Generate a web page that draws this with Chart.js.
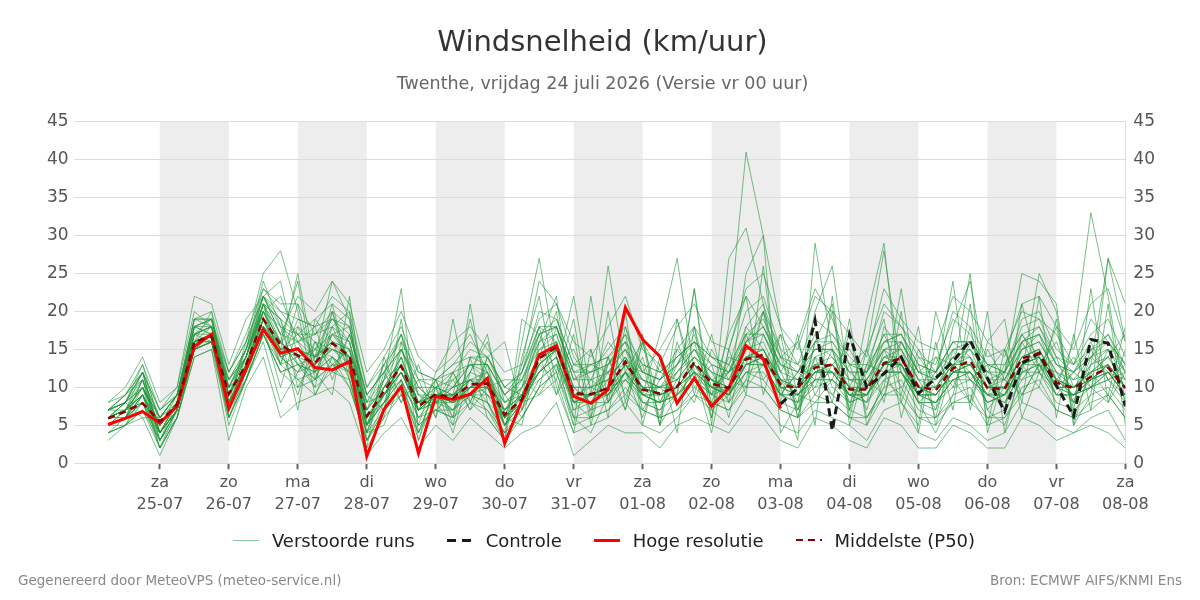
<!DOCTYPE html>
<html>
<head>
<meta charset="utf-8">
<script src="https://cdn.jsdelivr.net/npm/chart.js@4/dist/chart.umd.min.js"></script>
<style>
  html, body { margin: 0; padding: 0; background: #fff; }
  #wrap { position: relative; width: 1200px; height: 600px; font-family: 'DejaVu Sans', sans-serif; }
  .foot { position: absolute; top: 572px; font-size: 13.5px; color: #888; }
  #legend { position: absolute; left: 4px; top: 529px; width: 1200px; height: 22px;
    display: flex; justify-content: center; align-items: center; font-size: 18px; color: #222; }
  #legend .item { display: flex; align-items: center; margin-right: 32px; white-space: nowrap; }
  #legend .item:last-child { margin-right: 0; }
  #legend .swatch { width: 26px; margin-right: 13px; }
</style>
</head>
<body>
<div id="wrap">
  <canvas id="chart-wind" width="1200" height="600"></canvas>
  <div id="legend"></div>
  <div class="foot" style="left:18px">Gegenereerd door MeteoVPS (meteo-service.nl)</div>
  <div class="foot" style="right:18px">Bron: ECMWF AIFS/KNMI Ens</div>
</div>
<script>
// hours relative to za 25-07 00:00, 6-hourly steps
const stepHours = [-18,-12,-6,0,6,12,18,24,30,36,42,48,54,60,66,72,78,84,90,96,
  102,108,114,120,126,132,138,144,150,156,162,168,174,180,186,192,198,204,210,216,
  222,228,234,240,246,252,258,264,270,276,282,288,294,300,306,312,318,324,330,336];

const dayTicks = [0,24,48,72,96,120,144,168,192,216,240,264,288,312,336];
const dayNames = ['za','zo','ma','di','wo','do','vr','za','zo','ma','di','wo','do','vr','za'];
const dayDates = ['25-07','26-07','27-07','28-07','29-07','30-07','31-07','01-08','02-08','03-08','04-08','05-08','06-08','07-08','08-08'];
const shadedDays = [0,48,96,144,192,240,288];

const yTicks = [0,5,10,15,20,25,30,35,40,45];

// Hoge resolutie (first 10 days only)
const hiRes = [5.1,5.9,6.8,5.3,7.5,15.4,17.0,7.2,12.4,17.6,
  14.5,15.1,12.6,12.3,13.4,0.9,7.1,10.1,1.3,8.8,
  8.4,9.1,11.2,2.6,8.3,14.3,15.5,8.8,7.9,9.7,
  20.5,16.3,14.1,7.9,11.2,7.5,9.9,15.5,13.7,7.2];

// Middelste (P50)
const p50 = [5.9,6.8,7.9,5.5,7.7,16.0,16.7,9.1,13.0,19.0,
  15.6,14.2,13.2,15.8,14.1,6.2,9.5,12.8,7.5,9.1,
  8.6,10.4,10.5,6.4,8.4,13.8,15.3,9.2,9.1,9.9,
  13.4,9.7,9.2,10.1,13.3,10.5,9.9,13.7,14.3,10.4,
  9.9,12.6,13.0,9.7,9.7,13.2,13.8,10.1,9.6,12.5,
  13.5,9.9,9.8,13.8,14.5,10.6,9.9,11.4,12.6,9.9];

// Controle, visible from 03-08 00:00 onward (step index 39)
const controlStart = 39;
const control = [7.8,9.9,18.8,4.3,17.0,10.0,11.8,14.0,9.2,11.2,13.4,16.2,11.2,6.8,13.2,14.5,10.2,6.2,16.3,15.8,7.5];

// Verstoorde runs (ensemble members)
const members = [
  [7,8,12,4,8, 18,19,10,15,24, 18,16,12,17,15, 5,8,14,6,9, 8,12,11,5,7, 15,17,10,8,11, 14,9,8,12,15, 11,9,16,20,12, 8,14,12,9,11, 15,13,8,10,14, 12,8,9,15,17, 11,9,13,14,10],
  [5,6,9,3,7, 15,17,8,12,20, 16,13,14,16,13, 4,10,13,8,10, 9,11,9,7,9, 12,14,8,11,9, 12,11,10,8,13, 9,12,14,13,9, 12,10,15,8,9, 12,16,11,7,13, 15,10,12,11,14, 9,12,10,15,8],
  [6,7,10,6,9, 17,16,11,14,21, 15,17,15,19,16, 8,11,15,9,8, 10,13,12,8,10, 18,16,7,9,13, 16,8,7,11,14, 12,8,18,15,11, 7,16,14,10,8, 18,15,9,12,16, 14,7,10,17,13, 12,8,14,12,11],
  [4,5,7,2,6, 14,15,6,11,17, 12,10,11,13,12, 3,7,10,5,7, 6,9,8,4,6, 10,12,5,6,7, 10,7,6,7,10, 8,7,11,10,7, 6,9,8,6,5, 9,10,6,5,8, 9,5,6,10,11, 7,6,8,9,6],
  [7,9,13,7,10, 20,18,12,17,23, 20,19,18,22,20, 10,14,18,12,11, 13,16,14,10,12, 20,19,13,12,15, 18,12,11,15,18, 14,13,20,22,15, 13,19,17,14,12, 20,18,14,13,19, 17,13,12,19,20, 15,13,17,19,14],
  [6,7,8,5,8, 16,17,9,13,19, 14,15,13,15,14, 6,9,12,7,9, 8,10,11,6,8, 14,15,9,9,10, 13,10,9,10,13, 11,10,14,14,10, 10,12,13,10,10, 13,14,10,9,12, 13,10,10,14,15, 10,10,11,13,10],
  [5,6,11,4,7, 16,20,7,14,22, 24,14,10,20,11, 2,6,16,3,11, 5,14,6,3,14, 22,10,4,15,6, 20,5,14,4,18, 6,15,9,26,8, 17,5,22,6,15, 8,20,4,16,7, 21,5,15,8,22, 6,17,7,21,5],
  [6,8,6,6,9, 15,16,10,12,18, 10,18,16,12,17, 9,12,8,11,6, 12,8,13,9,6, 10,18,12,7,14, 9,14,6,16,10, 13,6,17,11,14, 7,13,9,13,7, 15,10,13,6,15, 11,13,7,16,12, 14,8,15,11,12],
  [7,7,9,5,8, 19,18,8,16,25, 28,20,9,14,12, 4,5,11,4,10, 4,12,17,6,5, 16,22,6,4,9, 11,13,5,9,23, 7,9,25,30,18, 9,8,11,17,6, 10,23,8,4,9, 18,7,5,12,25, 20,5,9,27,16],
  [5,5,7,3,6, 15,16,5,11,16, 8,12,15,17,18, 7,13,9,10,8, 11,7,10,11,11, 9,13,15,10,12, 7,16,12,11,8, 15,11,10,13,17, 13,11,20,7,13, 12,8,15,10,11, 8,15,11,9,13, 11,14,10,8,12],
  [8,10,14,8,10, 22,21,13,19,22, 17,22,20,24,21, 12,15,20,14,12, 16,18,15,12,13, 19,21,16,14,18, 22,15,13,18,21, 16,15,23,25,18, 15,22,20,17,14, 23,19,16,15,22, 20,16,14,21,22, 18,15,21,23,16],
  [4,6,8,3,7, 16,16,7,12,18, 13,11,12,14,10, 3,8,11,6,7, 7,9,7,4,7, 11,13,6,7,8, 11,8,7,9,11, 9,8,12,11,8, 7,11,9,7,6, 10,11,7,6,9, 10,6,7,11,12, 8,7,9,10,7],
  [6,6,10,4,8, 17,17,9,15,20, 22,16,17,18,13, 5,10,14,8,10, 9,12,16,8,9, 17,18,11,13,12, 15,9,10,13,17, 10,12,16,18,13, 11,15,16,12,10, 16,17,12,11,15, 16,11,12,16,18, 13,11,14,17,12],
  [7,8,12,6,9, 18,19,11,14,21, 19,13,11,16,15, 7,11,13,9,9, 10,11,12,7,11, 15,16,10,10,11, 14,11,9,12,14, 12,11,15,16,11, 11,13,14,11,11, 14,15,11,10,13, 14,10,11,15,16, 12,11,12,14,11],
  [3,5,6,1,6, 14,15,3,10,14, 6,8,9,10,8, 1,4,6,2,5, 3,6,4,2,4, 5,8,1,3,5, 4,4,2,5,6, 5,4,7,6,3, 2,6,5,3,2, 6,5,2,2,5, 4,2,2,6,5, 3,4,5,4,2],
  [6,7,9,5,8, 17,18,9,14,20, 16,18,14,17,16, 6,9,13,8,9, 9,11,10,6,9, 13,16,9,9,10, 13,10,9,10,13, 11,10,14,15,10, 10,12,13,10,9, 13,14,10,9,12, 13,10,10,14,15, 11,10,11,13,10],
  [5,7,11,4,7, 16,17,8,13,19, 15,25,13,21,12, 4,12,17,7,11, 6,14,13,5,10, 14,20,8,6,13, 17,7,11,14,16, 8,14,13,20,9, 12,17,10,8,12, 17,12,9,14,13, 11,9,13,17,14, 10,12,16,11,13],
  [6,8,10,5,8, 16,17,10,12,19, 14,12,16,13,15, 8,9,12,8,8, 9,10,11,7,9, 12,15,9,10,9, 12,10,10,10,12, 11,9,13,14,11, 9,12,13,9,10, 12,13,9,9,12, 12,10,9,13,14, 11,9,11,12,10],
  [7,9,11,6,9, 18,18,11,15,22, 17,16,18,19,17, 9,12,15,10,10, 11,13,13,9,11, 16,17,11,12,13, 15,12,11,13,15, 13,12,17,17,13, 12,15,15,12,12, 15,16,12,11,14, 15,12,11,16,17, 13,12,14,15,12],
  [5,6,8,3,7, 15,16,7,11,17, 13,14,11,13,13, 5,8,11,6,8, 7,9,9,5,8, 12,14,7,8,9, 12,8,8,9,12, 10,9,13,13,9, 8,11,11,9,8, 12,12,8,8,11, 12,8,9,13,13, 9,9,10,12,9],
  [4,5,9,2,6, 15,17,6,12,21, 19,10,14,24,19, 3,7,19,5,12, 14,17,12,6,13, 24,21,14,11,16, 13,12,15,19,11, 9,17,22,18,14, 16,23,19,13,15, 21,18,15,12,20, 18,14,15,20,19, 17,13,19,16,13],
  [6,7,8,5,8, 16,17,9,13,18, 14,15,14,15,14, 6,9,13,7,9, 8,10,10,6,8, 13,15,9,9,9, 13,9,9,10,13, 10,10,13,14,10, 9,12,12,9,9, 13,13,9,9,12, 12,9,9,13,14, 10,9,11,12,9],
  [7,8,13,5,9, 19,19,10,15,23, 21,21,17,20,18, 8,13,17,11,11, 12,15,14,9,12, 18,18,12,13,14, 17,13,12,14,16, 14,12,18,21,14, 12,16,17,13,12, 17,17,13,12,16, 16,13,12,18,19, 14,12,15,17,13],
  [5,6,7,4,7, 15,16,8,11,17, 12,13,12,14,12, 5,8,12,7,8, 8,9,8,6,8, 12,14,8,8,8, 12,9,8,9,12, 10,9,12,12,9, 9,11,11,8,9, 12,12,8,8,11, 11,9,8,12,13, 9,9,10,11,8],
  [6,7,10,2,7, 17,18,9,14,21, 17,7,19,16,11, 2,14,8,13,6, 19,8,14,16,7, 13,11,19,6,20, 8,17,5,19,9, 17,8,11,20,15, 6,14,8,19,5, 11,9,18,5,13, 8,20,4,13,10, 19,6,12,9,18],
  [8,9,12,7,9, 19,20,12,16,22, 18,17,19,21,19, 10,13,16,12,11, 13,14,14,10,12, 17,19,13,13,14, 16,13,12,14,16, 14,13,17,19,14, 13,16,16,13,13, 16,17,13,12,16, 16,13,13,17,18, 14,13,15,16,13],
  [5,6,9,4,8, 16,16,8,13,18, 15,14,13,15,13, 6,9,12,7,9, 8,10,10,5,8, 13,15,8,9,9, 12,9,9,10,12, 10,9,13,14,10, 9,12,12,9,9, 13,13,9,9,12, 12,9,9,13,14, 10,9,11,12,9],
  [6,6,11,3,7, 15,17,6,11,19, 16,24,11,18,20, 4,9,11,3,9, 7,11,8,4,16, 27,14,5,22,8, 18,9,17,27,12, 6,18,41,30,4, 8,20,26,10,15, 28,12,8,7,18, 24,11,7,21,12, 10,16,33,22,8],
  [7,8,10,6,8, 18,17,10,14,20, 15,16,14,16,15, 7,10,13,8,9, 9,11,11,7,9, 14,16,10,10,11, 14,10,10,11,14, 11,10,15,15,11, 10,13,13,10,10, 14,14,10,10,13, 13,10,10,14,15, 11,10,12,13,10],
  [6,7,12,4,8, 18,19,8,13,21, 16,13,12,17,14, 5,11,23,4,10, 6,21,8,3,19, 17,12,22,9,26, 12,6,13,9,23, 5,27,31,21,10, 3,29,15,7,19, 29,8,5,20,12, 25,4,12,25,24, 21,5,13,27,21],
  [5,6,9,4,7, 16,18,8,13,20, 18,11,9,13,10, 3,6,9,4,8, 5,8,6,3,8, 9,11,4,5,6, 8,5,4,6,9, 7,5,9,8,5, 4,7,6,5,3, 7,8,4,3,6, 5,3,4,8,7, 5,4,6,7,3],
  [7,8,11,6,9, 18,17,11,15,21, 13,19,18,11,17, 9,7,15,10,8, 12,7,14,10,9, 14,9,13,15,8, 12,16,8,13,18, 9,13,10,17,12, 16,9,13,15,11, 9,16,12,14,10, 16,12,15,9,13, 16,10,12,14,17],
  [6,7,9,4,7, 16,17,9,12,18, 16,14,15,14,12, 6,8,10,7,9, 8,9,10,5,9, 11,13,8,9,10, 11,9,8,9,11, 10,9,12,13,9, 8,10,11,9,8, 11,12,9,8,10, 11,8,9,12,12, 9,9,10,11,9],
  [5,7,10,5,8, 17,19,9,14,22, 20,17,14,18,16, 7,10,14,8,11, 10,13,11,8,10, 16,18,11,11,12, 15,11,10,12,15, 12,11,16,17,12, 11,14,15,11,11, 15,15,11,11,14, 14,11,11,15,16, 12,10,13,15,11],
  [6,8,12,3,8, 17,18,7,13,19, 13,21,12,9,22, 5,11,17,9,7, 9,19,10,6,12, 18,9,17,5,14, 7,16,5,15,12, 4,15,22,9,17, 6,16,21,5,13, 19,6,14,11,24, 7,16,19,6,12, 18,7,23,8,15],
  [4,5,8,2,6, 15,16,6,11,17, 12,13,10,12,11, 4,7,9,5,7, 6,8,7,3,6, 10,12,6,6,7, 9,7,6,7,9, 8,7,10,10,7, 6,8,8,6,6, 9,9,6,6,8, 8,6,6,9,10, 7,6,7,9,6],
  [7,9,12,7,9, 19,19,12,16,22, 19,17,17,19,18, 9,12,15,11,10, 12,13,13,9,11, 17,18,12,12,13, 16,12,11,13,16, 13,12,16,18,13, 12,15,15,12,12, 16,16,12,12,15, 15,12,12,16,17, 13,12,14,16,12],
  [6,7,10,5,8, 17,18,10,14,20, 14,12,13,20,13, 6,10,12,7,8, 10,11,9,7,10, 13,15,10,8,12, 13,11,10,11,13, 11,12,14,15,11, 10,13,12,11,10, 14,13,10,10,13, 13,10,10,14,14, 11,10,12,13,10],
  [5,6,8,4,7, 15,16,8,12,18, 15,9,16,15,14, 5,9,12,7,9, 7,10,12,5,8, 12,14,8,9,10, 12,9,8,10,12, 9,10,13,13,9, 9,11,12,9,9, 12,12,9,8,11, 12,9,8,12,13, 10,8,10,12,9],
  [6,7,9,5,8, 16,17,9,13,19, 15,15,14,16,14, 6,9,13,8,9, 9,10,10,6,9, 13,15,9,9,10, 13,10,9,10,13, 10,10,14,14,10, 10,12,12,10,9, 13,13,10,9,12, 13,9,10,13,14, 10,10,11,13,10]
];

const FONT = "'DejaVu Sans', sans-serif";
const MEMBER_COLOR = 'rgba(34,150,58,0.6)';

const toPoints = (vals, start = 0) => vals.map((v, i) => ({ x: stepHours[start + i], y: v }));

const memberSets = members.map(vals => ({
  label: 'Verstoorde runs',
  data: toPoints(vals),
  borderColor: MEMBER_COLOR,
  borderWidth: 1,
  pointRadius: 0,
  tension: 0,
  order: 4
}));

const lineSets = [
  { label: 'Controle', data: toPoints(control, controlStart), borderColor: '#1a1a1a', borderWidth: 3, borderDash: [8, 5], pointRadius: 0, order: 3 },
  { label: 'Hoge resolutie', data: toPoints(hiRes), borderColor: '#ff0000', borderWidth: 3, pointRadius: 0, order: 2 },
  { label: 'Middelste (P50)', data: toPoints(p50), borderColor: '#8b0000', borderWidth: 2.5, borderDash: [7, 5], pointRadius: 0, order: 1 }
];

// legend entries in display order
const legendItems = [
  { text: 'Verstoorde runs', color: 'rgba(34,150,58,0.55)', width: 1, dash: null },
  { text: 'Controle', color: '#1a1a1a', width: 3, dash: [9, 6] },
  { text: 'Hoge resolutie', color: '#ff0000', width: 3, dash: null },
  { text: 'Middelste (P50)', color: '#8b0000', width: 2.5, dash: [7, 5] }
];

const legendEl = document.getElementById('legend');
legendEl.innerHTML = legendItems.map(it => {
  const bg = it.dash
    ? `repeating-linear-gradient(to right, ${it.color} 0 ${it.dash[0]}px, transparent ${it.dash[0]}px ${it.dash[0] + it.dash[1]}px)`
    : it.color;
  return `<span class="item"><span class="swatch" style="height:${it.width}px;background:${bg}"></span>${it.text}</span>`;
}).join('');

const dayShading = {
  id: 'dayShading',
  beforeDraw(chart) {
    const { ctx, chartArea, scales } = chart;
    ctx.save();
    ctx.fillStyle = '#ffffff';
    ctx.fillRect(0, 0, chart.width, chart.height);
    ctx.fillStyle = '#ededed';
    shadedDays.forEach(d => {
      const x0 = scales.x.getPixelForValue(d);
      const x1 = scales.x.getPixelForValue(d + 24);
      ctx.fillRect(x0, chartArea.top, x1 - x0, chartArea.bottom - chartArea.top);
    });
    ctx.restore();
  }
};

new Chart(document.getElementById('chart-wind'), {
  type: 'line',
  data: { datasets: [...memberSets, ...lineSets] },
  options: {
    responsive: false,
    animation: false,
    devicePixelRatio: 1,
    layout: { padding: { left: 42, right: 37, top: 0, bottom: 82 } },
    plugins: {
      tooltip: { enabled: false },
      legend: { display: false },
      title: {
        display: true,
        text: 'Windsnelheid (km/uur)',
        color: '#333',
        font: { family: FONT, size: 29, weight: 'normal' },
        padding: { top: 26, bottom: 7 }
      },
      subtitle: {
        display: true,
        text: 'Twenthe, vrijdag 24 juli 2026 (Versie vr 00 uur)',
        color: '#666',
        font: { family: FONT, size: 17.5 },
        padding: { top: 6, bottom: 27 }
      }
    },
    scales: {
      x: {
        type: 'linear',
        min: -30,
        max: 336,
        afterBuildTicks: axis => { axis.ticks = dayTicks.map(v => ({ value: v })); },
        ticks: {
          autoSkip: false,
          maxRotation: 0,
          padding: 2,
          color: '#555',
          font: { family: FONT, size: 16, lineHeight: 1.4 },
          callback: v => {
            const i = dayTicks.indexOf(v);
            return i < 0 ? '' : [dayNames[i], dayDates[i]];
          }
        },
        grid: { drawOnChartArea: false, drawTicks: true, tickLength: 6, tickWidth: 2, tickColor: '#666' },
        border: { display: false }
      },
      y: {
        position: 'left',
        min: 0,
        max: 45,
        afterBuildTicks: axis => { axis.ticks = yTicks.map(v => ({ value: v })); },
        ticks: { padding: 5, color: '#555', font: { family: FONT, size: 17 } },
        grid: { color: '#dcdcdc', drawTicks: false },
        border: { display: false }
      },
      y2: {
        position: 'right',
        min: 0,
        max: 45,
        afterBuildTicks: axis => { axis.ticks = yTicks.map(v => ({ value: v })); },
        ticks: { padding: 8, color: '#555', font: { family: FONT, size: 17 } },
        grid: { drawOnChartArea: false, drawTicks: false },
        border: { display: true, color: '#dcdcdc' }
      }
    }
  },
  plugins: [dayShading]
});
</script>
</body>
</html>
